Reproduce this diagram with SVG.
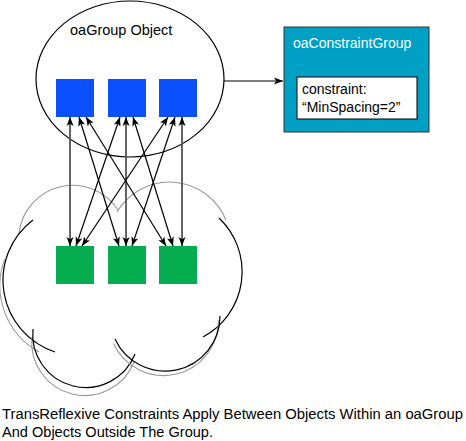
<svg xmlns="http://www.w3.org/2000/svg" width="466" height="441" viewBox="0 0 466 441">
<style>
text{font-family:"Liberation Sans",Arial,sans-serif;font-size:14px;fill:#000}
.blue{fill:#0A50FF}
.green{fill:#05AC50}
.cb{fill:none;stroke:#000;stroke-width:1.2}
.cg{fill:none;stroke:#999;stroke-width:1.1}
.dia{stroke:#000;stroke-width:1.2;fill:none;marker-start:url(#ah);marker-end:url(#ah)}
.ver{stroke:#555;stroke-width:1.8;fill:none;marker-start:url(#ah);marker-end:url(#ah)}
</style>
<defs>
<marker id="ah" viewBox="-10 -4 11 8" refX="0" refY="0" markerWidth="11" markerHeight="8" markerUnits="userSpaceOnUse" orient="auto-start-reverse">
<path d="M-9,-3.5 L0,0 L-9,3.5 L-6.8,0 Z" fill="#000"/>
</marker>
</defs>
<g id="cloud">
<path class="cg" d="M19,233 A54,54 0 0 1 118,210"/>
<path class="cg" d="M117,212 A61,61 0 0 1 226,220"/>
<path class="cb" d="M219,218 A74,74 0 0 1 203,337"/>
<path class="cg" d="M4.6,259.4 A75.5,75.5 0 0 0 39.1,351.9"/>
<path class="cb" d="M33,220 A75.5,75.5 0 0 0 55,352"/>
<path class="cg" d="M32,334 A53,53 0 0 0 134,359" transform="translate(0,3)"/>
<path class="cb" d="M33,329 A53,53 0 0 0 135,354"/>
<path class="cg" d="M115,339 A55,55 0 0 0 220,316" transform="translate(-1.5,4.5)"/>
<path class="cb" d="M115,339 A55,55 0 0 0 220,316"/>
</g>
<g id="oaGroup">
<ellipse cx="130" cy="79" rx="94" ry="78" fill="none" stroke="#000" stroke-width="1.2"/>
<text x="70" y="35" style="font-size:14.5px">oaGroup Object</text>
</g>
<g id="blue1"><rect class="blue" x="56" y="79" width="38" height="38"/></g>
<g id="blue2"><rect class="blue" x="108" y="79" width="38" height="38"/></g>
<g id="blue3"><rect class="blue" x="159" y="79" width="38" height="38"/></g>
<g id="green1"><rect class="green" x="56" y="246" width="38" height="38"/></g>
<g id="green2"><rect class="green" x="108" y="246" width="38" height="38"/></g>
<g id="green3"><rect class="green" x="159" y="246" width="38" height="38"/></g>
<g id="oaConstraintGroup">
<rect x="284" y="27" width="145" height="105" fill="#00A0C4" stroke="#333" stroke-width="1"/>
<text x="293" y="48" style="fill:#fff">oaConstraintGroup</text>
<rect x="297" y="77" width="120" height="42" fill="#fff" stroke="#000" stroke-width="1"/>
<text x="302" y="94">constraint:</text>
<text x="302" y="112">“MinSpacing=2”</text>
</g>
<g id="connectors">
<line class="ver" x1="70" y1="117" x2="70" y2="246"/>
<line class="ver" x1="126" y1="117" x2="126" y2="246"/>
<line class="ver" x1="182" y1="117" x2="182" y2="246"/>
<line class="dia" x1="79" y1="117" x2="119" y2="246"/>
<line class="dia" x1="86" y1="117" x2="166" y2="246"/>
<line class="dia" x1="120" y1="117" x2="76" y2="246"/>
<line class="dia" x1="133" y1="117" x2="173" y2="246"/>
<line class="dia" x1="168" y1="117" x2="82" y2="246"/>
<line class="dia" x1="175" y1="117" x2="132" y2="246"/>
<line x1="224" y1="81" x2="283" y2="81" stroke="#000" stroke-width="1.2" marker-end="url(#ah)"/>
</g>
<g id="caption">
<text x="2" y="419" textLength="461" lengthAdjust="spacingAndGlyphs">TransReflexive Constraints Apply Between Objects Within an oaGroup</text>
<text x="2" y="437" textLength="211" lengthAdjust="spacingAndGlyphs">And Objects Outside The Group.</text>
</g>
</svg>
